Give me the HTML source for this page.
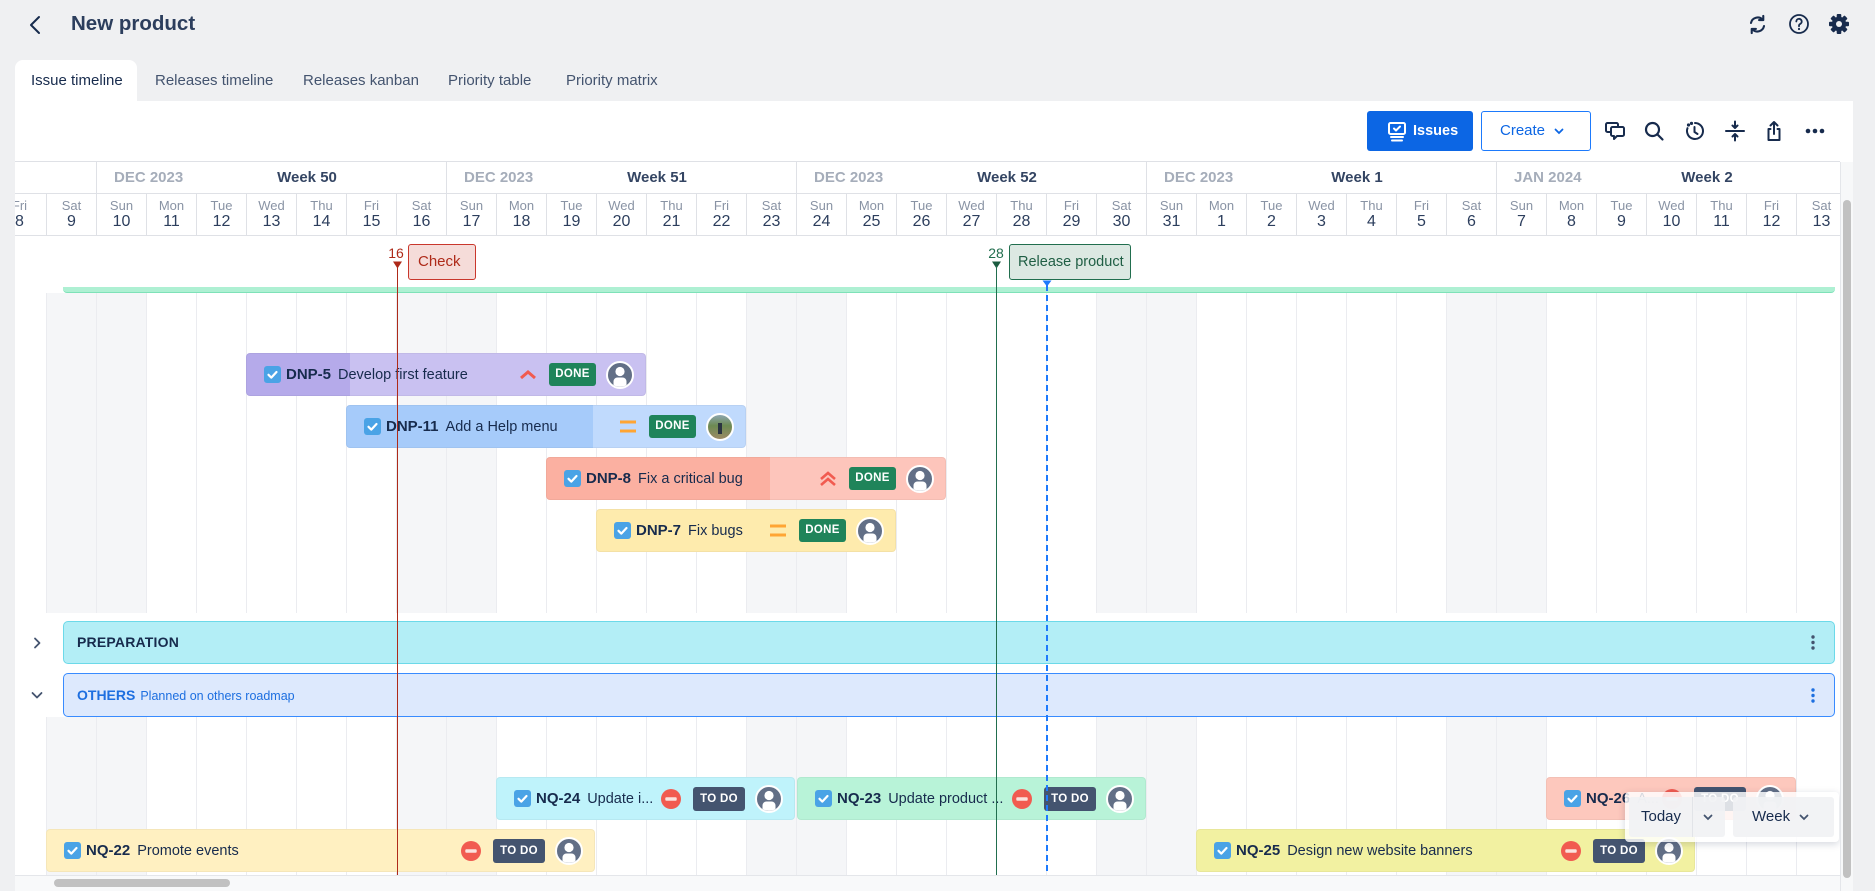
<!DOCTYPE html>
<html><head><meta charset="utf-8">
<style>
*{box-sizing:border-box;margin:0;padding:0}
html,body{width:1875px;height:891px;overflow:hidden;background:#eff0f2;font-family:"Liberation Sans",Arial,sans-serif;color:#172b4d;position:relative}
.a{position:absolute}
.d{position:absolute;top:193px;width:50px;height:43px;border-left:1px solid #dfe1e6;text-align:center}
.d i{display:block;font-style:normal;font-size:13px;line-height:15px;color:#8993a4;margin-top:5px}
.d b{display:block;font-weight:normal;font-size:16px;line-height:18px;color:#2c3e5d;margin-top:0px}
.w{position:absolute;top:162px;height:31px;width:350px;border-left:1px solid #dfe1e6}
.w .m{position:absolute;left:17px;top:0;line-height:31px;font-weight:bold;font-size:15px;color:#a5adba;white-space:nowrap}
.w .t{position:absolute;left:110px;top:0;width:200px;text-align:center;line-height:31px;font-weight:bold;font-size:15px;color:#344563;white-space:nowrap}
.we{position:absolute;width:100px;background:#f5f6f8}
.grid{position:absolute;left:46px;width:1794px;background:repeating-linear-gradient(90deg,#ebecf0 0,#ebecf0 1px,transparent 1px,transparent 50px)}
.bar{position:absolute;height:43px;border-radius:4px;display:flex;align-items:center;padding-left:18px;white-space:nowrap;overflow:hidden;box-shadow:inset 0 0 0 1px rgba(0,0,0,0.04)}
.bar .cb{width:17px;height:17px;display:block;flex:none}
.bar .k{font-weight:bold;font-size:15px;margin-left:5px;color:#172b4d}
.bar .s{font-size:14.5px;margin-left:7px;color:#172b4d}
.bd{position:absolute;right:50px;top:10px;height:23px;width:47px;border-radius:3px;color:#fff;font-weight:bold;font-size:11.5px;line-height:23px;text-align:center;letter-spacing:.3px}
.done{background:#1f845a}
.todo{background:#44546f;width:52px;height:24px;line-height:24px;top:9.5px;font-size:11.5px}
.av{position:absolute;right:12px;top:7.5px;width:28px;height:28px}
.pri{position:absolute;right:109px;top:14px;width:18px;height:15px}
.no{position:absolute;right:114px;top:11.5px;width:20px;height:20px}
.tab{position:absolute;top:72px;font-size:15px;line-height:18px;color:#44546f;white-space:nowrap}
.ic{position:absolute}
</style></head><body>

<!-- Top header -->
<svg class="ic" style="left:26px;top:14px" width="18" height="22" viewBox="0 0 18 22"><path d="M13 3L5 11l8 8" fill="none" stroke="#172b4d" stroke-width="2" stroke-linecap="round" stroke-linejoin="round"/></svg>
<div class="a" style="left:71px;top:12px;font-size:20.5px;line-height:24px;font-weight:bold;color:#2c3e5d">New product</div>

<svg class="ic" style="left:1747px;top:14px" width="21" height="21" viewBox="0 0 20 20" fill="none" stroke="#172b4d" stroke-width="2" stroke-linecap="round" stroke-linejoin="round"><path d="M3.8 8.5a6.5 6.5 0 0 1 11.2-3"/><path d="M16.2 11.5a6.5 6.5 0 0 1-11.2 3"/><path d="M15.5 1.8v4h-4"/><path d="M4.5 18.2v-4h4"/></svg>
<svg class="ic" style="left:1788px;top:13px" width="22" height="22" viewBox="0 0 22 22" fill="none" stroke="#172b4d" stroke-width="1.8" stroke-linecap="round"><circle cx="11" cy="11" r="9"/><path d="M8.3 8.5a2.7 2.7 0 1 1 3.8 2.5c-.8.4-1.1.9-1.1 1.7v.6"/><circle cx="11" cy="16" r="1.1" fill="#172b4d" stroke="none"/></svg>
<svg class="ic" style="left:1828px;top:13px" width="22" height="22" viewBox="-11 -11 22 22"><g fill="#172b4d"><circle r="7.2"/><rect x="-2.3" y="-10" width="4.6" height="20" rx="1"/><rect x="-2.3" y="-10" width="4.6" height="20" rx="1" transform="rotate(45)"/><rect x="-2.3" y="-10" width="4.6" height="20" rx="1" transform="rotate(90)"/><rect x="-2.3" y="-10" width="4.6" height="20" rx="1" transform="rotate(135)"/></g><circle r="3" fill="#eff0f2"/></svg>

<!-- Tabs -->
<div class="a" style="left:15px;top:60px;width:122px;height:42px;background:#fff;border-radius:8px 8px 0 0"></div>
<div class="tab" style="left:31px;color:#172b4d">Issue timeline</div>
<div class="tab" style="left:155px">Releases timeline</div>
<div class="tab" style="left:303px">Releases kanban</div>
<div class="tab" style="left:448px">Priority table</div>
<div class="tab" style="left:566px">Priority matrix</div>

<!-- Panel -->
<div class="a" style="left:15px;top:101px;width:1838px;height:790px;background:#fff"></div>

<!-- Toolbar -->
<div class="a" style="left:1367px;top:111px;width:106px;height:40px;background:#0c66e4;border-radius:3px"></div>
<svg class="ic" style="left:1386px;top:121px" width="22" height="22" viewBox="0 0 22 22" fill="none" stroke="#fff" stroke-width="2" stroke-linecap="round" stroke-linejoin="round"><rect x="3" y="2" width="16" height="11" rx="1.5"/><path d="M8 7.5l2 2 4-4"/><path d="M5 16h12M6 19.5h10"/></svg>
<div class="a" style="left:1413px;top:122px;font-size:14.5px;line-height:18px;font-weight:bold;color:#fff">Issues</div>
<div class="a" style="left:1481px;top:111px;width:110px;height:40px;border:1px solid #1d7afc;border-radius:3px"></div>
<div class="a" style="left:1500px;top:122px;font-size:15px;line-height:18px;color:#0c66e4">Create</div>
<svg class="ic" style="left:1554px;top:128px" width="10" height="7" viewBox="0 0 10 7"><path d="M1.5 1.5l3.5 3.5 3.5-3.5" fill="none" stroke="#0c66e4" stroke-width="1.8" stroke-linecap="round"/></svg>

<svg class="ic" style="left:1604px;top:120px" width="22" height="22" viewBox="0 0 22 22" fill="none" stroke="#172b4d" stroke-width="2" stroke-linejoin="round"><path d="M14 6V4.5A1.5 1.5 0 0 0 12.5 3h-9A1.5 1.5 0 0 0 2 4.5v6A1.5 1.5 0 0 0 3.5 12H6"/><path d="M8.5 7h10A1.5 1.5 0 0 1 20 8.5v6a1.5 1.5 0 0 1-1.5 1.5H13l-3 3v-3H8.5A1.5 1.5 0 0 1 7 14.5v-6A1.5 1.5 0 0 1 8.5 7z"/></svg>
<svg class="ic" style="left:1643px;top:120px" width="22" height="22" viewBox="0 0 22 22" fill="none" stroke="#172b4d" stroke-width="2.2" stroke-linecap="round"><circle cx="9.5" cy="9.5" r="6.5"/><path d="M14.5 14.5l5 5"/></svg>
<svg class="ic" style="left:1684px;top:120px" width="22" height="22" viewBox="0 0 22 22" fill="none" stroke="#172b4d" stroke-width="2" stroke-linecap="round"><path d="M11 3a8 8 0 1 1-7.5 5.2"/><path d="M10.5 7v5l3 2"/><circle cx="4.5" cy="5" r="0.6" fill="#172b4d"/><circle cx="7.5" cy="3.4" r="0.6" fill="#172b4d"/></svg>
<svg class="ic" style="left:1724px;top:120px" width="22" height="22" viewBox="0 0 22 22" fill="none" stroke="#172b4d" stroke-width="2" stroke-linecap="round" stroke-linejoin="round"><path d="M2 11h18"/><path d="M11 1.5v6M8.5 5.5l2.5 2.5 2.5-2.5"/><path d="M11 20.5v-6M8.5 16.5l2.5-2.5 2.5 2.5"/></svg>
<svg class="ic" style="left:1763px;top:119px" width="22" height="24" viewBox="0 0 22 24" fill="none" stroke="#172b4d" stroke-width="2" stroke-linecap="round" stroke-linejoin="round"><path d="M7.5 10H5.5v11h11V10h-2"/><path d="M11 15V3M7.5 6.5L11 3l3.5 3.5"/></svg>
<svg class="ic" style="left:1804px;top:126px" width="22" height="10" viewBox="0 0 22 10"><g fill="#172b4d"><circle cx="4" cy="5" r="2.3"/><circle cx="11" cy="5" r="2.3"/><circle cx="18" cy="5" r="2.3"/></g></svg>

<!-- Body weekends + grid -->
<div class="we" style="left:46px;top:293px;height:320px"></div>
<div class="we" style="left:396px;top:293px;height:320px"></div>
<div class="we" style="left:746px;top:293px;height:320px"></div>
<div class="we" style="left:1096px;top:293px;height:320px"></div>
<div class="we" style="left:1446px;top:293px;height:320px"></div>
<div class="we" style="left:46px;top:717px;height:158px"></div>
<div class="we" style="left:396px;top:717px;height:158px"></div>
<div class="we" style="left:746px;top:717px;height:158px"></div>
<div class="we" style="left:1096px;top:717px;height:158px"></div>
<div class="we" style="left:1446px;top:717px;height:158px"></div>
<div class="grid" style="top:293px;height:320px"></div>
<div class="grid" style="top:717px;height:158px"></div>

<!-- Header: weeks -->
<div class="w" style="left:-254px"></div>
<div class="w" style="left:96px"><span class="m">DEC 2023</span><span class="t">Week 50</span></div>
<div class="w" style="left:446px"><span class="m">DEC 2023</span><span class="t">Week 51</span></div>
<div class="w" style="left:796px"><span class="m">DEC 2023</span><span class="t">Week 52</span></div>
<div class="w" style="left:1146px"><span class="m">DEC 2023</span><span class="t">Week 1</span></div>
<div class="w" style="left:1496px"><span class="m">JAN 2024</span><span class="t">Week 2</span></div>

<!-- Header: days -->
<div class="d" style="left:-6px"><i>Fri</i><b>8</b></div>
<div class="d" style="left:46px"><i>Sat</i><b>9</b></div>
<div class="d" style="left:96px"><i>Sun</i><b>10</b></div>
<div class="d" style="left:146px"><i>Mon</i><b>11</b></div>
<div class="d" style="left:196px"><i>Tue</i><b>12</b></div>
<div class="d" style="left:246px"><i>Wed</i><b>13</b></div>
<div class="d" style="left:296px"><i>Thu</i><b>14</b></div>
<div class="d" style="left:346px"><i>Fri</i><b>15</b></div>
<div class="d" style="left:396px"><i>Sat</i><b>16</b></div>
<div class="d" style="left:446px"><i>Sun</i><b>17</b></div>
<div class="d" style="left:496px"><i>Mon</i><b>18</b></div>
<div class="d" style="left:546px"><i>Tue</i><b>19</b></div>
<div class="d" style="left:596px"><i>Wed</i><b>20</b></div>
<div class="d" style="left:646px"><i>Thu</i><b>21</b></div>
<div class="d" style="left:696px"><i>Fri</i><b>22</b></div>
<div class="d" style="left:746px"><i>Sat</i><b>23</b></div>
<div class="d" style="left:796px"><i>Sun</i><b>24</b></div>
<div class="d" style="left:846px"><i>Mon</i><b>25</b></div>
<div class="d" style="left:896px"><i>Tue</i><b>26</b></div>
<div class="d" style="left:946px"><i>Wed</i><b>27</b></div>
<div class="d" style="left:996px"><i>Thu</i><b>28</b></div>
<div class="d" style="left:1046px"><i>Fri</i><b>29</b></div>
<div class="d" style="left:1096px"><i>Sat</i><b>30</b></div>
<div class="d" style="left:1146px"><i>Sun</i><b>31</b></div>
<div class="d" style="left:1196px"><i>Mon</i><b>1</b></div>
<div class="d" style="left:1246px"><i>Tue</i><b>2</b></div>
<div class="d" style="left:1296px"><i>Wed</i><b>3</b></div>
<div class="d" style="left:1346px"><i>Thu</i><b>4</b></div>
<div class="d" style="left:1396px"><i>Fri</i><b>5</b></div>
<div class="d" style="left:1446px"><i>Sat</i><b>6</b></div>
<div class="d" style="left:1496px"><i>Sun</i><b>7</b></div>
<div class="d" style="left:1546px"><i>Mon</i><b>8</b></div>
<div class="d" style="left:1596px"><i>Tue</i><b>9</b></div>
<div class="d" style="left:1646px"><i>Wed</i><b>10</b></div>
<div class="d" style="left:1696px"><i>Thu</i><b>11</b></div>
<div class="d" style="left:1746px"><i>Fri</i><b>12</b></div>
<div class="d" style="left:1796px"><i>Sat</i><b>13</b></div>
<!-- header horizontal lines -->
<div class="a" style="left:15px;top:161px;width:1825px;height:1px;background:#dfe1e6"></div>
<div class="a" style="left:15px;top:193px;width:1825px;height:1px;background:#dfe1e6"></div>
<div class="a" style="left:15px;top:235px;width:1825px;height:1px;background:#dfe1e6"></div>

<!-- green group band -->
<div class="a" style="left:63px;top:287px;width:1772px;height:6px;background:#aef0d3;border-bottom:1px solid #7ee2b8;border-radius:0 0 4px 4px"></div>

<!-- Bars section 1 -->
<div class="bar" style="left:246px;top:353px;width:400px;background:linear-gradient(90deg,#b5aaea 0,#b5aaea 104px,#c9c1f1 104px)">
<svg class="cb" viewBox="0 0 17 17"><rect width="17" height="17" rx="3" fill="#4aa3e6"/><path d="M4.5 8.8l2.8 2.8 5.2-5.6" stroke="#fff" stroke-width="2.2" fill="none" stroke-linecap="round" stroke-linejoin="round"/></svg><b class="k">DNP-5</b><span class="s">Develop first feature</span>
<svg class="pri" viewBox="0 0 18 15"><path d="M2 11L9 5l7 6" stroke="#f15b50" stroke-width="3" fill="none"/></svg>
<span class="bd done">DONE</span>
<svg class="av" viewBox="0 0 28 28"><circle cx="14" cy="14" r="13" fill="#626f86" stroke="#fff" stroke-width="2"/><circle cx="14" cy="10.5" r="4.6" fill="#fff"/><path d="M7.5 24v-3.5a4 4 0 0 1 4-4h5a4 4 0 0 1 4 4V24a12 12 0 0 1-13 0z" fill="#fff"/></svg>
</div>

<div class="bar" style="left:346px;top:405px;width:400px;background:linear-gradient(90deg,#a6cbfa 0,#a6cbfa 247px,#c0dafd 247px)">
<svg class="cb" viewBox="0 0 17 17"><rect width="17" height="17" rx="3" fill="#4aa3e6"/><path d="M4.5 8.8l2.8 2.8 5.2-5.6" stroke="#fff" stroke-width="2.2" fill="none" stroke-linecap="round" stroke-linejoin="round"/></svg><b class="k">DNP-11</b><span class="s">Add a Help menu</span>
<svg class="pri" viewBox="0 0 18 15"><path d="M1 3h16M1 12h16" stroke="#ffa533" stroke-width="3" fill="none"/></svg>
<span class="bd done">DONE</span>
<svg class="av" viewBox="0 0 28 28"><defs><linearGradient id="ph" x1="0" y1="0" x2="0" y2="1"><stop offset="0" stop-color="#8fa8b8"/><stop offset="0.45" stop-color="#6c8a52"/><stop offset="1" stop-color="#a08a66"/></linearGradient></defs><circle cx="14" cy="14" r="13" fill="url(#ph)" stroke="#fff" stroke-width="2"/><rect x="12" y="10" width="4" height="11" fill="#2a3340"/></svg>
</div>

<div class="bar" style="left:546px;top:457px;width:400px;background:linear-gradient(90deg,#fbb0a1 0,#fbb0a1 224px,#fdc5bb 224px)">
<svg class="cb" viewBox="0 0 17 17"><rect width="17" height="17" rx="3" fill="#4aa3e6"/><path d="M4.5 8.8l2.8 2.8 5.2-5.6" stroke="#fff" stroke-width="2.2" fill="none" stroke-linecap="round" stroke-linejoin="round"/></svg><b class="k">DNP-8</b><span class="s">Fix a critical bug</span>
<svg class="pri" viewBox="0 0 18 15"><path d="M2 8L9 2l7 6M2 14L9 8l7 6" stroke="#f15b50" stroke-width="2.6" fill="none"/></svg>
<span class="bd done">DONE</span>
<svg class="av" viewBox="0 0 28 28"><circle cx="14" cy="14" r="13" fill="#626f86" stroke="#fff" stroke-width="2"/><circle cx="14" cy="10.5" r="4.6" fill="#fff"/><path d="M7.5 24v-3.5a4 4 0 0 1 4-4h5a4 4 0 0 1 4 4V24a12 12 0 0 1-13 0z" fill="#fff"/></svg>
</div>

<div class="bar" style="left:596px;top:509px;width:300px;background:#feebad">
<svg class="cb" viewBox="0 0 17 17"><rect width="17" height="17" rx="3" fill="#4aa3e6"/><path d="M4.5 8.8l2.8 2.8 5.2-5.6" stroke="#fff" stroke-width="2.2" fill="none" stroke-linecap="round" stroke-linejoin="round"/></svg><b class="k">DNP-7</b><span class="s">Fix bugs</span>
<svg class="pri" viewBox="0 0 18 15"><path d="M1 3h16M1 12h16" stroke="#ffa533" stroke-width="3" fill="none"/></svg>
<span class="bd done">DONE</span>
<svg class="av" viewBox="0 0 28 28"><circle cx="14" cy="14" r="13" fill="#626f86" stroke="#fff" stroke-width="2"/><circle cx="14" cy="10.5" r="4.6" fill="#fff"/><path d="M7.5 24v-3.5a4 4 0 0 1 4-4h5a4 4 0 0 1 4 4V24a12 12 0 0 1-13 0z" fill="#fff"/></svg>
</div>

<!-- Group rows -->
<svg class="ic" style="left:32px;top:637px" width="10" height="12" viewBox="0 0 10 12"><path d="M3 1.5l4.5 4.5L3 10.5" fill="none" stroke="#44546f" stroke-width="1.8" stroke-linecap="round" stroke-linejoin="round"/></svg>
<div class="a" style="left:63px;top:621px;width:1772px;height:43px;background:#b3eef6;border:1px solid #6cd9e9;border-radius:5px">
<span class="a" style="left:13px;top:0;line-height:41px;font-weight:bold;font-size:14px;letter-spacing:.2px;color:#172b4d">PREPARATION</span>
<svg class="ic" style="left:1746px;top:12px" width="6" height="17" viewBox="0 0 6 17"><g fill="#44546f"><circle cx="3" cy="3" r="1.7"/><circle cx="3" cy="8.5" r="1.7"/><circle cx="3" cy="14" r="1.7"/></g></svg>
</div>
<svg class="ic" style="left:31px;top:690px" width="12" height="10" viewBox="0 0 12 10"><path d="M1.5 3l4.5 4.5L10.5 3" fill="none" stroke="#44546f" stroke-width="1.8" stroke-linecap="round" stroke-linejoin="round"/></svg>
<div class="a" style="left:63px;top:673px;width:1772px;height:44px;background:#dde9fd;border:1px solid #388bff;border-radius:5px">
<div class="a" style="left:13px;top:0;height:42px;display:flex;align-items:center;white-space:nowrap;color:#1d6fe0"><b style="font-size:14px">OTHERS</b><span style="font-size:12.5px;margin-left:5px;position:relative;top:1px">Planned on others roadmap</span></div>
<svg class="ic" style="left:1746px;top:13px" width="6" height="17" viewBox="0 0 6 17"><g fill="#1d6fe0"><circle cx="3" cy="3" r="1.7"/><circle cx="3" cy="8.5" r="1.7"/><circle cx="3" cy="14" r="1.7"/></g></svg>
</div>

<!-- Bars section 2 -->
<div class="bar" style="left:496px;top:777px;width:299px;background:#bff3fb">
<svg class="cb" viewBox="0 0 17 17"><rect width="17" height="17" rx="3" fill="#4aa3e6"/><path d="M4.5 8.8l2.8 2.8 5.2-5.6" stroke="#fff" stroke-width="2.2" fill="none" stroke-linecap="round" stroke-linejoin="round"/></svg><b class="k">NQ-24</b><span class="s">Update i...</span>
<svg class="no" viewBox="0 0 20 20"><circle cx="10" cy="10" r="10" fill="#f15b50"/><rect x="4.3" y="8.2" width="11.4" height="3.6" rx="1" fill="#fbe2dd"/></svg>
<span class="bd todo">TO DO</span>
<svg class="av" viewBox="0 0 28 28"><circle cx="14" cy="14" r="13" fill="#626f86" stroke="#fff" stroke-width="2"/><circle cx="14" cy="10.5" r="4.6" fill="#fff"/><path d="M7.5 24v-3.5a4 4 0 0 1 4-4h5a4 4 0 0 1 4 4V24a12 12 0 0 1-13 0z" fill="#fff"/></svg>
</div>

<div class="bar" style="left:797px;top:777px;width:349px;background:#b8f3d8">
<svg class="cb" viewBox="0 0 17 17"><rect width="17" height="17" rx="3" fill="#4aa3e6"/><path d="M4.5 8.8l2.8 2.8 5.2-5.6" stroke="#fff" stroke-width="2.2" fill="none" stroke-linecap="round" stroke-linejoin="round"/></svg><b class="k">NQ-23</b><span class="s">Update product ...</span>
<svg class="no" viewBox="0 0 20 20"><circle cx="10" cy="10" r="10" fill="#f15b50"/><rect x="4.3" y="8.2" width="11.4" height="3.6" rx="1" fill="#fbe2dd"/></svg>
<span class="bd todo">TO DO</span>
<svg class="av" viewBox="0 0 28 28"><circle cx="14" cy="14" r="13" fill="#626f86" stroke="#fff" stroke-width="2"/><circle cx="14" cy="10.5" r="4.6" fill="#fff"/><path d="M7.5 24v-3.5a4 4 0 0 1 4-4h5a4 4 0 0 1 4 4V24a12 12 0 0 1-13 0z" fill="#fff"/></svg>
</div>

<div class="bar" style="left:1546px;top:777px;width:250px;background:#fdc8bd">
<svg class="cb" viewBox="0 0 17 17"><rect width="17" height="17" rx="3" fill="#4aa3e6"/><path d="M4.5 8.8l2.8 2.8 5.2-5.6" stroke="#fff" stroke-width="2.2" fill="none" stroke-linecap="round" stroke-linejoin="round"/></svg><b class="k">NQ-26</b><span class="s">A...</span>
<svg class="no" viewBox="0 0 20 20"><circle cx="10" cy="10" r="10" fill="#f15b50"/><rect x="4.3" y="8.2" width="11.4" height="3.6" rx="1" fill="#fbe2dd"/></svg>
<span class="bd todo">TO DO</span>
<svg class="av" viewBox="0 0 28 28"><circle cx="14" cy="14" r="13" fill="#626f86" stroke="#fff" stroke-width="2"/><circle cx="14" cy="10.5" r="4.6" fill="#fff"/><path d="M7.5 24v-3.5a4 4 0 0 1 4-4h5a4 4 0 0 1 4 4V24a12 12 0 0 1-13 0z" fill="#fff"/></svg>
</div>

<div class="bar" style="left:46px;top:829px;width:549px;background:#fff0c1">
<svg class="cb" viewBox="0 0 17 17"><rect width="17" height="17" rx="3" fill="#4aa3e6"/><path d="M4.5 8.8l2.8 2.8 5.2-5.6" stroke="#fff" stroke-width="2.2" fill="none" stroke-linecap="round" stroke-linejoin="round"/></svg><b class="k">NQ-22</b><span class="s">Promote events</span>
<svg class="no" viewBox="0 0 20 20"><circle cx="10" cy="10" r="10" fill="#f15b50"/><rect x="4.3" y="8.2" width="11.4" height="3.6" rx="1" fill="#fbe2dd"/></svg>
<span class="bd todo">TO DO</span>
<svg class="av" viewBox="0 0 28 28"><circle cx="14" cy="14" r="13" fill="#626f86" stroke="#fff" stroke-width="2"/><circle cx="14" cy="10.5" r="4.6" fill="#fff"/><path d="M7.5 24v-3.5a4 4 0 0 1 4-4h5a4 4 0 0 1 4 4V24a12 12 0 0 1-13 0z" fill="#fff"/></svg>
</div>

<div class="bar" style="left:1196px;top:829px;width:499px;background:#f2f1a1">
<svg class="cb" viewBox="0 0 17 17"><rect width="17" height="17" rx="3" fill="#4aa3e6"/><path d="M4.5 8.8l2.8 2.8 5.2-5.6" stroke="#fff" stroke-width="2.2" fill="none" stroke-linecap="round" stroke-linejoin="round"/></svg><b class="k">NQ-25</b><span class="s">Design new website banners</span>
<svg class="no" viewBox="0 0 20 20"><circle cx="10" cy="10" r="10" fill="#f15b50"/><rect x="4.3" y="8.2" width="11.4" height="3.6" rx="1" fill="#fbe2dd"/></svg>
<span class="bd todo">TO DO</span>
<svg class="av" viewBox="0 0 28 28"><circle cx="14" cy="14" r="13" fill="#626f86" stroke="#fff" stroke-width="2"/><circle cx="14" cy="10.5" r="4.6" fill="#fff"/><path d="M7.5 24v-3.5a4 4 0 0 1 4-4h5a4 4 0 0 1 4 4V24a12 12 0 0 1-13 0z" fill="#fff"/></svg>
</div>

<!-- Milestones -->
<div class="a" style="left:381px;top:245px;width:30px;text-align:center;font-size:14px;line-height:16px;color:#ae2a19">16</div>
<svg class="ic" style="left:392px;top:261px" width="11" height="8" viewBox="0 0 11 8"><path d="M1 0.5h9L5.5 7.5z" fill="#ae2a19"/></svg>
<div class="a" style="left:397px;top:266px;width:1px;height:609px;background:#ae2a19"></div>
<div class="a" style="left:408px;top:244px;width:68px;height:36px;border:1px solid #c9372c;border-radius:3px;background:#f5dcd9;font-size:15px;line-height:34px;padding-left:9px;color:#ae2a19">Check</div>

<div class="a" style="left:981px;top:245px;width:30px;text-align:center;font-size:14px;line-height:16px;color:#216e4e">28</div>
<svg class="ic" style="left:991px;top:261px" width="11" height="8" viewBox="0 0 11 8"><path d="M1 0.5h9L5.5 7.5z" fill="#1c5c41"/></svg>
<div class="a" style="left:996px;top:266px;width:1px;height:609px;background:#216e4e"></div>
<div class="a" style="left:1009px;top:244px;width:122px;height:36px;border:1px solid #216e4e;border-radius:3px;background:#dce8e2;font-size:14.5px;line-height:34px;padding-left:8px;color:#1f5e44;white-space:nowrap">Release product</div>

<svg class="ic" style="left:1042px;top:280px" width="10" height="7" viewBox="0 0 10 7"><path d="M0.5 0.5h9L5 6.5z" fill="#1d7afc"/></svg>
<div class="a" style="left:1046px;top:285px;width:2px;height:590px;background:repeating-linear-gradient(180deg,#1d7afc 0,#1d7afc 6px,transparent 6px,transparent 10px)"></div>

<!-- Today / Week popup -->
<div class="a" style="left:1625px;top:792px;width:214px;height:50px;background:rgba(255,255,255,0.82);border-radius:4px;box-shadow:0 2px 8px rgba(9,30,66,0.18)"></div>
<div class="a" style="left:1629px;top:797px;width:96px;height:40px;background:rgba(241,242,244,0.9);border-radius:3px"></div>
<div class="a" style="left:1692px;top:797px;width:1px;height:40px;background:#e2e4e8"></div>
<div class="a" style="left:1641px;top:808px;font-size:15px;line-height:18px;color:#172b4d">Today</div>
<svg class="ic" style="left:1703px;top:814px" width="10" height="7" viewBox="0 0 10 7"><path d="M1.5 1.5l3.5 3.5 3.5-3.5" fill="none" stroke="#44546f" stroke-width="1.8" stroke-linecap="round"/></svg>
<div class="a" style="left:1733px;top:797px;width:101px;height:40px;background:rgba(241,242,244,0.9);border-radius:3px"></div>
<div class="a" style="left:1752px;top:808px;font-size:15px;line-height:18px;color:#172b4d">Week</div>
<svg class="ic" style="left:1799px;top:814px" width="10" height="7" viewBox="0 0 10 7"><path d="M1.5 1.5l3.5 3.5 3.5-3.5" fill="none" stroke="#44546f" stroke-width="1.8" stroke-linecap="round"/></svg>

<!-- Scrollbars -->
<div class="a" style="left:15px;top:875px;width:1825px;height:16px;background:#f8f9fa;border-top:1px solid #e4e6ea"></div>
<div class="a" style="left:54px;top:879px;width:176px;height:8px;background:#c1c1c1;border-radius:4px"></div>
<div class="a" style="left:1840px;top:162px;width:13px;height:729px;background:#f7f8f9;border-left:1px solid #e4e6ea"></div>
<div class="a" style="left:1843px;top:200px;width:8px;height:678px;background:#c1c1c1;border-radius:4px"></div>

<!-- left page strip -->
<div class="a" style="left:0;top:0;width:15px;height:891px;background:#eff0f2"></div>
</body></html>
